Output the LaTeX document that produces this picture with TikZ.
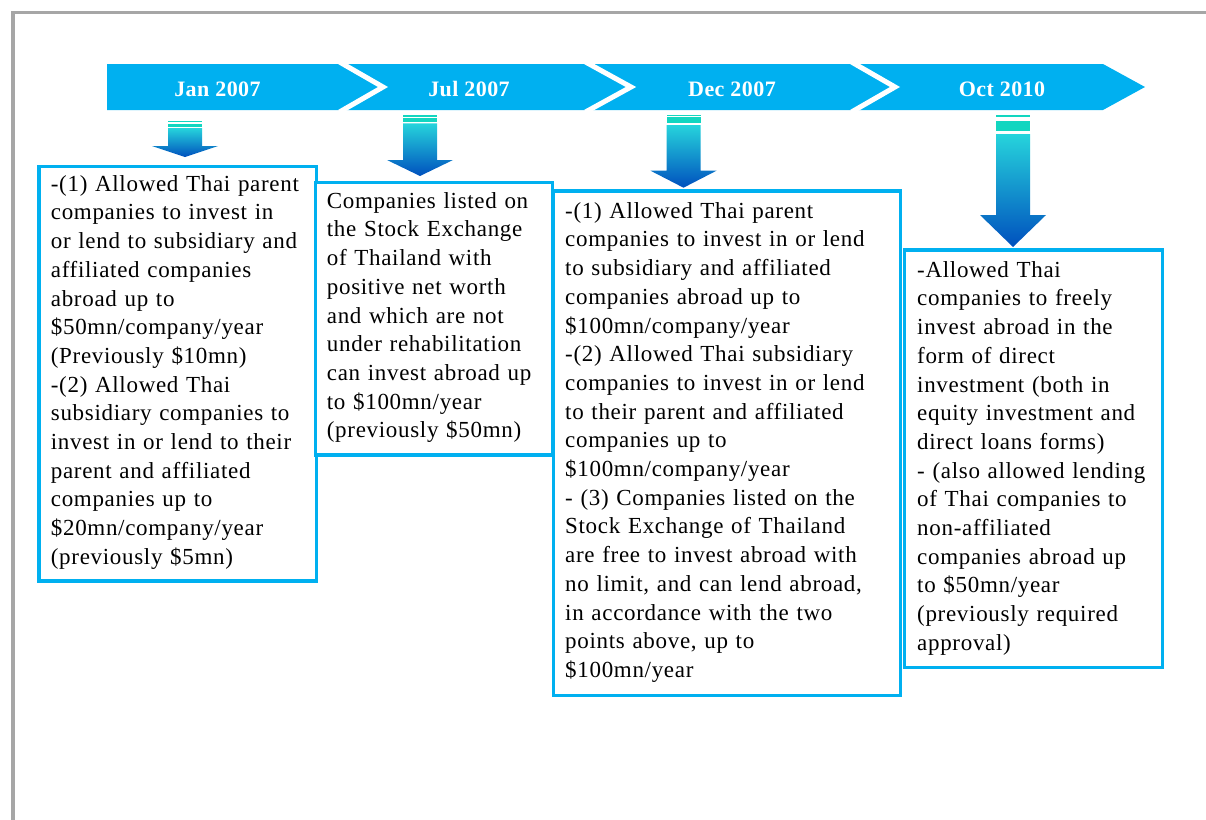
\documentclass[tikz,border=0pt]{standalone}
\usepackage{fontspec}
\setmainfont{Liberation Serif}[LetterSpace=3]
\newfontfamily\lblfont{Liberation Serif}[LetterSpace=2]
\definecolor{barblue}{HTML}{00B0F0}
\definecolor{framegray}{HTML}{A6A6A6}
\definecolor{stripe}{HTML}{12D6C0}
\definecolor{shtop}{HTML}{26D4DC}
\definecolor{shmid}{HTML}{0E98E2}
\definecolor{shbot}{HTML}{0050BE}
\newcommand\gradarrow[8]{%
  \fill[stripe] (#1-17,#2) rectangle (#1+17,#3);
  \fill[stripe] (#1-17,#4) rectangle (#1+17,#5);
  \shade[top color=shtop, middle color=shmid, bottom color=shbot]
    (#1-17,#6) -- (#1-17,#7) -- (#1-33,#7) -- (#1,#8) -- (#1+33,#7) -- (#1+17,#7) -- (#1+17,#6) -- cycle;
}
\tikzset{
  box/.style={draw=barblue, line width=3.5pt, fill=white, outer sep=0pt, inner sep=0pt, anchor=north west, rectangle},
  txt/.style={anchor=north west, inner sep=0pt, align=left, text width=340pt, font=\fontsize{23}{28.7}\selectfont},
  lbl/.style={anchor=base, inner sep=0pt, text=white, font=\lblfont\fontsize{22}{25}\selectfont\bfseries},
}
\begin{document}
\begin{tikzpicture}[x=1pt, y=-1pt]
\useasboundingbox (0,0) rectangle (1206,819);
% frame
\draw[framegray, line width=3pt] (11,12.5) -- (1210,12.5);
\draw[framegray, line width=4pt] (13,11) -- (13,823);
% timeline bar
\fill[barblue] (107,64) -- (1103,64) -- (1145,87) -- (1103,110) -- (107,110) -- cycle;
\draw[white, line width=5pt, line join=miter] (339.5,62) -- (383,87) -- (339.5,112);
\draw[white, line width=5pt, line join=miter] (585.5,62) -- (631,87) -- (585.5,112);
\draw[white, line width=5pt, line join=miter] (851.5,62) -- (895,87) -- (851.5,112);
\node[lbl] (l1) at (217.5,96.5) {Jan 2007};
\node[lbl] (l2) at (469,96.5) {Jul 2007};
\node[lbl] (l3) at (732,96.5) {Dec 2007};
\node[lbl] (l4) at (1002,96.5) {Oct 2010};
% arrows
\gradarrow{185}{121}{122.3}{123.7}{126.7}{128}{146}{157}
\gradarrow{420}{115}{116.7}{117.5}{122}{123.3}{160}{176}
\gradarrow{683.5}{115}{116.3}{117}{122.7}{125}{170.7}{187.7}
\gradarrow{1013}{115}{117.3}{121}{130.7}{134}{215}{247}
% boxes
\node[box, minimum width=277.5pt, minimum height=414.5pt] (b1) at (39,166.5) {};
\node[box, minimum width=237pt, minimum height=272.5pt] (b2) at (315.5,182.5) {};
\node[box, minimum width=347pt, minimum height=504.5pt] (b3) at (553.5,191) {};
\node[box, minimum width=258pt, minimum height=417.5pt] (b4) at (904.5,250) {};
% texts
\node[txt] (t1) at (50.7,171) {\rule{0pt}{20pt}-(1) Allowed Thai parent\\
companies to invest in\\
or lend to subsidiary and\\
affiliated companies\\
abroad up to\\
\$50mn/company/year\\
(Previously \$10mn)\\
-(2) Allowed Thai\\
subsidiary companies to\\
invest in or lend to their\\
parent and affiliated\\
companies up to\\
\$20mn/company/year\\
(previously \$5mn)};
\node[txt] (t2) at (326.7,188) {\rule{0pt}{20pt}Companies listed on\\
the Stock Exchange\\
of Thailand with\\
positive net worth\\
and which are not\\
under rehabilitation\\
can invest abroad up\\
to \$100mn/year\\
(previously \$50mn)};
\node[txt] (t3) at (565,198) {\rule{0pt}{20pt}-(1) Allowed Thai parent\\
companies to invest in or lend\\
to subsidiary and affiliated\\
companies abroad up to\\
\$100mn/company/year\\
-(2) Allowed Thai subsidiary\\
companies to invest in or lend\\
to their parent and affiliated\\
companies up to\\
\$100mn/company/year\\
- (3) Companies listed on the\\
Stock Exchange of Thailand\\
are free to invest abroad with\\
no limit, and can lend abroad,\\
in accordance with the two\\
points above, up to\\
\$100mn/year};
\node[txt] (t4) at (917,257) {\rule{0pt}{20pt}-Allowed Thai\\
companies to freely\\
invest abroad in the\\
form of direct\\
investment (both in\\
equity investment and\\
direct loans forms)\\
- (also allowed lending\\
of Thai companies to\\
non-affiliated\\
companies abroad up\\
to \$50mn/year\\
(previously required\\
approval)};
\end{tikzpicture}
\end{document}
